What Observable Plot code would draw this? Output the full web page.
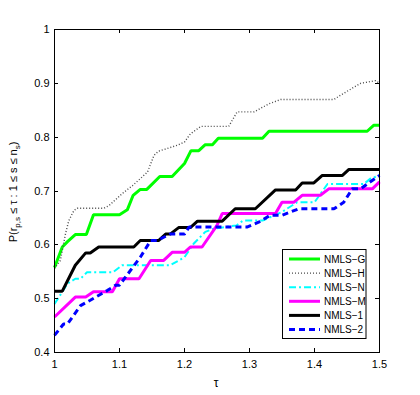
<!DOCTYPE html>
<html><head><meta charset="utf-8">
<script src="https://cdn.jsdelivr.net/npm/d3@7"></script>
<script src="https://cdn.jsdelivr.net/npm/@observablehq/plot@0.6"></script>
<style>body{margin:0;background:#fff} #chart{width:420px;height:395px;position:relative}</style>
</head><body><div id="chart"></div>
<script>
const xTicks = [1, 1.1, 1.2, 1.3, 1.4, 1.5];
const yTicks = [0.4, 0.5, 0.6, 0.7, 0.8, 0.9, 1];
const seriesNames = ["NMLS−G", "NMLS−H", "NMLS−N", "NMLS−M", "NMLS−1", "NMLS−2"];

const gX = [1, 1.012, 1.02, 1.032, 1.049, 1.06, 1.1, 1.112, 1.121, 1.132, 1.142, 1.162, 1.181, 1.2, 1.21, 1.222, 1.232, 1.243, 1.252, 1.32, 1.33, 1.481, 1.491, 1.5];
const gY = [0.558, 0.596, 0.606, 0.619, 0.619, 0.656, 0.656, 0.665, 0.692, 0.703, 0.703, 0.727, 0.727, 0.751, 0.775, 0.775, 0.786, 0.786, 0.798, 0.798, 0.811, 0.811, 0.822, 0.822];

const hX = [1, 1.009, 1.017, 1.022, 1.03, 1.035, 1.076, 1.084, 1.104, 1.12, 1.143, 1.153, 1.16, 1.171, 1.189, 1.2, 1.209, 1.225, 1.268, 1.281, 1.307, 1.33, 1.348, 1.43, 1.44, 1.471, 1.494, 1.5];
const hY = [0.556, 0.571, 0.621, 0.645, 0.664, 0.668, 0.668, 0.673, 0.695, 0.71, 0.735, 0.766, 0.774, 0.778, 0.785, 0.791, 0.806, 0.82, 0.82, 0.847, 0.847, 0.862, 0.87, 0.87, 0.878, 0.9, 0.905, 0.9];

const nX = [1, 1.02, 1.032, 1.04, 1.05, 1.09, 1.104, 1.163, 1.178, 1.2, 1.214, 1.232, 1.245, 1.28, 1.29, 1.32, 1.35, 1.373, 1.40, 1.42, 1.476, 1.486, 1.5];
const nY = [0.49, 0.528, 0.537, 0.537, 0.549, 0.549, 0.562, 0.562, 0.562, 0.577, 0.602, 0.624, 0.63, 0.636, 0.645, 0.645, 0.661, 0.679, 0.679, 0.713, 0.713, 0.723, 0.729];

const mX = [1, 1.032, 1.048, 1.06, 1.089, 1.1, 1.13, 1.148, 1.168, 1.181, 1.2, 1.209, 1.227, 1.25, 1.258, 1.34, 1.35, 1.368, 1.381, 1.409, 1.422, 1.489, 1.5];
const mY = [0.466, 0.503, 0.503, 0.513, 0.513, 0.537, 0.537, 0.571, 0.571, 0.586, 0.586, 0.596, 0.596, 0.636, 0.658, 0.658, 0.679, 0.679, 0.692, 0.692, 0.704, 0.704, 0.717];

const oneX = [1, 1.012, 1.032, 1.048, 1.055, 1.068, 1.122, 1.132, 1.16, 1.171, 1.178, 1.191, 1.209, 1.22, 1.258, 1.278, 1.309, 1.34, 1.371, 1.381, 1.399, 1.412, 1.443, 1.453, 1.5];
const oneY = [0.514, 0.514, 0.562, 0.585, 0.585, 0.596, 0.596, 0.608, 0.608, 0.62, 0.62, 0.632, 0.632, 0.644, 0.644, 0.667, 0.667, 0.702, 0.702, 0.715, 0.715, 0.729, 0.729, 0.74, 0.74];

const twoX = [1, 1.014, 1.02, 1.04, 1.055, 1.081, 1.094, 1.1, 1.132, 1.148, 1.158, 1.178, 1.2, 1.207, 1.296, 1.314, 1.332, 1.35, 1.376, 1.43, 1.445, 1.458, 1.471, 1.486, 1.5];
const twoY = [0.432, 0.453, 0.453, 0.487, 0.497, 0.515, 0.525, 0.525, 0.577, 0.608, 0.608, 0.62, 0.62, 0.633, 0.633, 0.642, 0.655, 0.655, 0.667, 0.667, 0.679, 0.704, 0.704, 0.717, 0.729];

const seriesX = [gX, hX, nX, mX, oneX, twoX];
const seriesY = [gY, hY, nY, mY, oneY, twoY];

// styles (kept separate from data)
const styles = [
  {stroke: "#00ff00", strokeWidth: 3, dash: null},
  {stroke: "#4a4a4a", strokeWidth: 1.4, dash: "1,2"},
  {stroke: "#00ffff", strokeWidth: 2, dash: "7,3,2,3"},
  {stroke: "#ff00ff", strokeWidth: 3, dash: null},
  {stroke: "#000000", strokeWidth: 3, dash: null},
  {stroke: "#0000ff", strokeWidth: 3, dash: "6,4"}
];

const marks = seriesNames.map((name, i) => {
  const rows = seriesX[i].map((x, j) => ({name, x, y: seriesY[i][j]}));
  const st = styles[i];
  return Plot.line(rows, {x: "x", y: "y", stroke: st.stroke, strokeWidth: st.strokeWidth,
    strokeDasharray: st.dash, strokeLinejoin: "miter", strokeLinecap: "butt"});
});

const FONT = "'Liberation Sans', Arial, Helvetica, sans-serif";

const plot = Plot.plot({
  width: 420, height: 395,
  marginLeft: 54, marginRight: 41, marginTop: 29, marginBottom: 43,
  style: {fontFamily: FONT, fontSize: "11px", background: "#fff", color: "#000"},
  x: {domain: [1, 1.5]},
  y: {domain: [0.4, 1]},
  marks: [
    Plot.axisX(xTicks, {anchor: "bottom", tickSize: 0, tickPadding: 8, tickFormat: d => String(d), label: null, fontSize: 11}),
    Plot.axisY(yTicks, {anchor: "left", tickSize: 0, tickPadding: 5, tickFormat: d => String(d), label: null, fontSize: 11}),
    ...marks,
    Plot.frame({stroke: "#000", strokeWidth: 1})
  ]
});

document.getElementById("chart").appendChild(plot);

const svg = d3.select(plot);
const sx = plot.scale("x"), sy = plot.scale("y");
const L = 54, R = 379, T = 29, B = 352, TK = 4;
const g = svg.append("g").attr("stroke", "#000").attr("stroke-width", 1);
xTicks.forEach(v => {
  const px = Math.round(sx.apply(v)) + 0.5;
  g.append("line").attr("x1", px).attr("x2", px).attr("y1", B).attr("y2", B - TK);
  g.append("line").attr("x1", px).attr("x2", px).attr("y1", T).attr("y2", T + TK);
});
yTicks.forEach(v => {
  const py = Math.round(sy.apply(v)) + 0.5;
  g.append("line").attr("x1", L).attr("x2", L + TK).attr("y1", py).attr("y2", py);
  g.append("line").attr("x1", R).attr("x2", R - TK).attr("y1", py).attr("y2", py);
});

// axis labels
svg.append("text").attr("x", 216).attr("y", 387)
  .style("text-anchor", "middle").style("font-family", FONT).style("font-size", "12px").text("τ");

const yl = svg.append("text").attr("transform", "translate(17,192) rotate(-90)")
  .style("text-anchor", "middle").style("font-family", FONT).style("font-size", "11px");
yl.append("tspan").text("P(r");
yl.append("tspan").style("font-size", "8px").attr("dy", 3).text("p,s");
yl.append("tspan").attr("dy", -3).text(" ≤ τ : 1 ≤ s ≤ n");
yl.append("tspan").style("font-size", "8px").attr("dy", 3).text("s");
yl.append("tspan").attr("dy", -3).text(")");

// legend
const lg = svg.append("g");
lg.append("rect").attr("x", 282.5).attr("y", 249.5).attr("width", 83.5).attr("height", 89)
  .attr("fill", "#fff").attr("stroke", "#000").attr("stroke-width", 1);
seriesNames.forEach((name, i) => {
  const y = 259 + i * 14.1;
  const st = styles[i];
  lg.append("line").attr("x1", 289).attr("x2", 320).attr("y1", y).attr("y2", y)
    .attr("stroke", st.stroke).attr("stroke-width", st.strokeWidth)
    .attr("stroke-dasharray", st.dash);
  lg.append("text").attr("x", 324).attr("y", y).attr("dy", "0.35em")
    .style("text-anchor", "start").style("font-family", FONT).style("font-size", "10px")
    .attr("fill", "#000").text(name);
});
</script>
</body></html>
